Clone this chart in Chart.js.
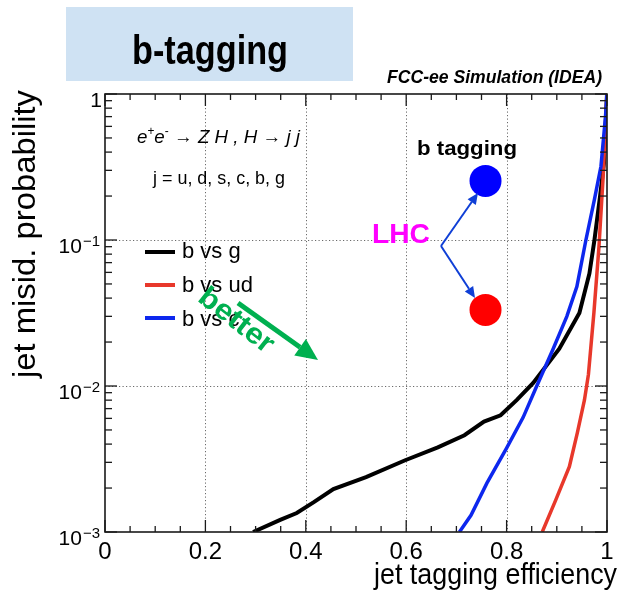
<!DOCTYPE html>
<html><head><meta charset="utf-8">
<script src="https://cdn.jsdelivr.net/npm/chart.js@4.4.1/dist/chart.umd.min.js"></script>
<style>html,body{margin:0;padding:0;background:#fff;overflow:hidden}canvas{display:block}</style>
</head><body>
<canvas id="c" width="623" height="595" style="width:623px;height:595px"></canvas>
<script>
// ---- data ----
const effBvsG  = [0.295,0.349,0.382,0.416,0.455,0.520,0.598,0.663,0.716,0.755,0.788,0.820,0.853,0.905,0.945,0.965,0.975,0.986,0.994,1.000];
const misBvsG  = [0.0010,0.00121,0.00135,0.0016,0.00197,0.00238,0.0031,0.0038,0.0046,0.0057,0.0063,0.0080,0.0105,0.018,0.0316,0.059,0.10,0.197,0.336,1.0];
const effBvsUd = [0.871,0.898,0.925,0.941,0.955,0.963,0.974,0.984,0.992,0.998,1.000];
const misBvsUd = [0.0010,0.00166,0.0028,0.0048,0.0080,0.012,0.032,0.09,0.26,0.74,1.0];
const effBvsC  = [0.706,0.729,0.761,0.800,0.833,0.859,0.892,0.920,0.940,0.958,0.975,0.988,0.997,1.000];
const misBvsC  = [0.0010,0.0013,0.00217,0.00376,0.0061,0.0098,0.0177,0.030,0.048,0.10,0.19,0.32,0.70,1.0];
const lhcEff   = [0.758, 0.758];
const lhcMis   = [0.254, 0.0332];
const seriesNames = ['b vs g','b vs ud','b vs c'];
const xTickLabels = ['0','0.2','0.4','0.6','0.8','1'];
const yTickValues = [0.001, 0.01, 0.1, 1];
const yTickLabels = ['10^-3','10^-2','10^-1','1'];

const FAM = "'Liberation Sans', Arial, Helvetica, sans-serif";
const COLORS = ['#000000', '#e8382b', '#0d27ee'];

function pts(xs, ys){ return xs.map((x,i)=>({x:x, y:ys[i]})); }

function fitText(ctx, s, x, y, font, color, align, targetW, angle){
  ctx.save();
  ctx.font = font; ctx.fillStyle = color; ctx.textAlign = align;
  ctx.textBaseline = 'alphabetic';
  const w = ctx.measureText(s).width;
  ctx.translate(x, y);
  if (angle) ctx.rotate(angle);
  ctx.scale(targetW ? targetW / w : 1, 1);
  ctx.fillText(s, 0, 0);
  ctx.restore();
}

function richText(ctx, pieces, x, y, targetW, color){
  ctx.save();
  ctx.fillStyle = color; ctx.textAlign = 'left'; ctx.textBaseline = 'alphabetic';
  let total = 0;
  pieces.forEach(p => { ctx.font = p.f; p.w = ctx.measureText(p.t).width; total += p.w; });
  const sx = targetW / total;
  ctx.translate(x, y); ctx.scale(sx, 1);
  let cx = 0;
  pieces.forEach(p => { ctx.font = p.f; ctx.fillText(p.t, cx, p.dy || 0); cx += p.w; });
  ctx.restore();
}

function arrow(ctx, x0, y0, x1, y1, color, lw, hl, hw){
  const ang = Math.atan2(y1 - y0, x1 - x0);
  const bx = x1 - hl * Math.cos(ang), by = y1 - hl * Math.sin(ang);
  ctx.save();
  ctx.strokeStyle = color; ctx.fillStyle = color; ctx.lineWidth = lw; ctx.lineCap = 'butt';
  ctx.beginPath(); ctx.moveTo(x0, y0); ctx.lineTo(bx, by); ctx.stroke();
  ctx.beginPath();
  ctx.moveTo(x1, y1);
  ctx.lineTo(bx + hw * Math.sin(ang), by - hw * Math.cos(ang));
  ctx.lineTo(bx - hw * Math.sin(ang), by + hw * Math.cos(ang));
  ctx.closePath(); ctx.fill();
  ctx.restore();
}

const framePlugin = {
  id: 'frame',
  beforeDatasetsDraw(chart){
    const ctx = chart.ctx, a = chart.chartArea, xs = chart.scales.x, ys = chart.scales.y;
    ctx.save();
    ctx.strokeStyle = '#6a6a6a'; ctx.lineWidth = 1; ctx.setLineDash([1.2, 2.3]);
    for (let i = 1; i < xTickLabels.length - 1; i++){
      const px = Math.round(xs.getPixelForValue(i * 0.2)) + 0.5;
      ctx.beginPath(); ctx.moveTo(px, a.top); ctx.lineTo(px, a.bottom); ctx.stroke();
    }
    for (let i = 1; i < yTickValues.length - 1; i++){
      const py = Math.round(ys.getPixelForValue(yTickValues[i])) + 0.5;
      ctx.beginPath(); ctx.moveTo(a.left, py); ctx.lineTo(a.right, py); ctx.stroke();
    }
    ctx.restore();
  },
  afterDatasetsDraw(chart){
    const ctx = chart.ctx, a = chart.chartArea, xs = chart.scales.x, ys = chart.scales.y;
    ctx.save();
    ctx.strokeStyle = '#1a1a1a'; ctx.lineWidth = 1.6;
    ctx.strokeRect(a.left, a.top, a.right - a.left, a.bottom - a.top);
    ctx.lineWidth = 1.3;
    // x ticks (inward, bottom and top)
    for (let i = 0; i <= 20; i++){
      const px = xs.getPixelForValue(i * 0.05);
      const len = (i % 4 === 0) ? 12 : 6;
      ctx.beginPath(); ctx.moveTo(px, a.bottom); ctx.lineTo(px, a.bottom - len); ctx.stroke();
      ctx.beginPath(); ctx.moveTo(px, a.top); ctx.lineTo(px, a.top + len); ctx.stroke();
    }
    // y ticks (log)
    for (let d = -3; d <= 0; d++){
      for (let m = 1; m <= 9; m++){
        const v = m * Math.pow(10, d);
        if (v > 1.0001) break;
        const py = ys.getPixelForValue(v);
        const len = (m === 1) ? 12 : 7;
        ctx.beginPath(); ctx.moveTo(a.left, py); ctx.lineTo(a.left + len, py); ctx.stroke();
        ctx.beginPath(); ctx.moveTo(a.right, py); ctx.lineTo(a.right - len, py); ctx.stroke();
      }
    }
    ctx.restore();
    // y tick labels via the y scale
    ctx.save();
    ctx.fillStyle = '#000'; ctx.textBaseline = 'alphabetic';
    yTickValues.forEach((v, i) => {
      const py = ys.getPixelForValue(v);
      const lab = yTickLabels[i];
      const right = 100;
      if (lab.indexOf('^') >= 0){
        const parts = lab.split('^');
        const sup = parts[1].replace('-', '\u2212');
        ctx.font = '15px ' + FAM;
        const ws = ctx.measureText(sup).width;
        ctx.textAlign = 'left';
        ctx.fillText(sup, right - ws, py + 6);
        ctx.font = '21px ' + FAM;
        ctx.textAlign = 'right';
        ctx.fillText(parts[0], right - ws - 1, py + 12.5);
      } else {
        ctx.font = '21px ' + FAM; ctx.textAlign = 'right';
        ctx.fillText(lab, right + 2, py + 12.5);
      }
    });
    ctx.restore();
  },
  afterDraw(chart){
    const ctx = chart.ctx;
    // title box
    ctx.save();
    ctx.fillStyle = '#cfe2f3'; ctx.fillRect(66, 7, 287, 74);
    ctx.restore();
    fitText(ctx, 'b-tagging', 210, 64, 'bold 40px ' + FAM, '#000', 'center', 156);
    fitText(ctx, 'FCC-ee Simulation (IDEA)', 602, 83, 'italic bold 18px ' + FAM, '#000', 'right', 215);
    // axis titles
    fitText(ctx, 'jet tagging efficiency', 617, 584, '30px ' + FAM, '#000', 'right', 243);
    fitText(ctx, 'jet misid. probability', 35, 234, '31px ' + FAM, '#000', 'center', 288, -Math.PI / 2);
    // process text
    const it = 'italic 19px ' + FAM, rm = '19px ' + FAM, sp = '12px ' + FAM;
    richText(ctx, [
      {t:'e', f:it}, {t:'+', f:sp, dy:-8}, {t:'e', f:it}, {t:'-', f:sp, dy:-8},
      {t:' \u2192 ', f:rm}, {t:'Z H , H', f:it}, {t:' \u2192 ', f:rm}, {t:'j j', f:it}
    ], 137, 143, 163, '#000');
    fitText(ctx, 'j = u, d, s, c, b, g', 153, 184, '19px ' + FAM, '#000', 'left', 132);
    // legend
    const ly = [252, 285, 318], lb = [258, 292, 326];
    ctx.save();
    seriesNames.forEach((n, i) => {
      ctx.strokeStyle = COLORS[i]; ctx.lineWidth = 4;
      ctx.beginPath(); ctx.moveTo(145, ly[i]); ctx.lineTo(175, ly[i]); ctx.stroke();
      ctx.fillStyle = '#000'; ctx.font = '22px ' + FAM; ctx.textAlign = 'left';
      ctx.fillText(n, 182, lb[i]);
    });
    ctx.restore();
    // better arrow
    arrow(ctx, 238, 303, 318, 360, '#00b050', 5, 22, 10);
    ctx.save();
    ctx.translate(236, 321); ctx.rotate(38 * Math.PI / 180);
    ctx.font = 'bold 29px ' + FAM; ctx.fillStyle = '#00b050';
    ctx.textAlign = 'center'; ctx.textBaseline = 'middle';
    const bw = ctx.measureText('better').width;
    ctx.scale(88 / bw, 1);
    ctx.fillText('better', 0, 0);
    ctx.restore();
    // LHC annotation
    fitText(ctx, 'b tagging', 467, 155, 'bold 21px ' + FAM, '#000', 'center', 100);
    fitText(ctx, 'LHC', 372, 243, 'bold 28px ' + FAM, '#ff00ff', 'left', 58);
    arrow(ctx, 441, 246, 478, 193, '#0f3fd6', 2, 11, 5);
    arrow(ctx, 441, 246, 475, 298, '#0f3fd6', 2, 11, 5);
  }
};

const chart = new Chart(document.getElementById('c'), {
  type: 'scatter',
  data: {
    datasets: [
      {label: seriesNames[0], data: pts(effBvsG, misBvsG), showLine: true, borderColor: COLORS[0], borderWidth: 4, pointRadius: 0, tension: 0, order: 2},
      {label: seriesNames[1], data: pts(effBvsUd, misBvsUd), showLine: true, borderColor: COLORS[1], borderWidth: 3.5, pointRadius: 0, tension: 0, order: 1},
      {label: seriesNames[2], data: pts(effBvsC, misBvsC), showLine: true, borderColor: COLORS[2], borderWidth: 3.5, pointRadius: 0, tension: 0, order: 0},
      {label: 'LHC', data: pts(lhcEff, lhcMis), showLine: false, pointRadius: 16, pointBorderWidth: 0,
       pointBackgroundColor: ['#0000ff', '#ff0000'], pointBorderColor: ['#0000ff', '#ff0000'], order: -1, clip: false}
    ]
  },
  options: {
    responsive: false, animation: false, devicePixelRatio: 1,
    layout: {padding: {left: 0, right: 8, top: 94, bottom: 0}},
    plugins: {legend: {display: false}, tooltip: {enabled: false}},
    scales: {
      x: {
        type: 'linear', min: 0, max: 1,
        afterFit(s){ s.height = 63; },
        grid: {display: false, drawTicks: false},
        border: {display: false},
        ticks: {stepSize: 0.2, autoSkip: false, maxRotation: 0, padding: 6, color: '#000',
                font: {size: 24, family: FAM},
                callback: (v) => xTickLabels[Math.round(v / 0.2)]}
      },
      y: {
        type: 'logarithmic', min: 0.001, max: 1,
        afterFit(s){ s.width = 105; },
        grid: {display: false, drawTicks: false},
        border: {display: false},
        ticks: {display: false}
      }
    }
  },
  plugins: [framePlugin]
});
</script>
</body></html>
